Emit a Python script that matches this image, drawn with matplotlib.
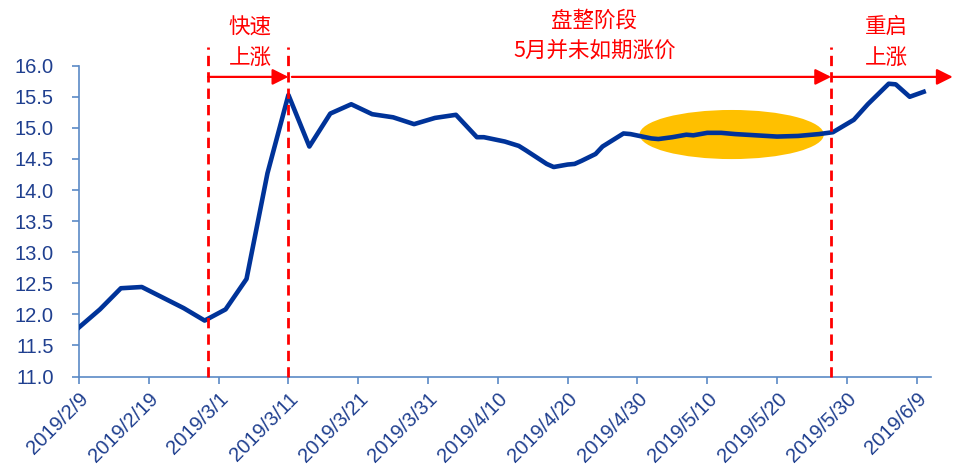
import matplotlib
matplotlib.use("Agg")
import matplotlib.pyplot as plt
import matplotlib.dates as mdates
from matplotlib.patches import Ellipse
import pandas as pd

plt.rcParams['font.family'] = ['Liberation Sans', 'Noto Sans CJK SC', 'DejaVu Sans']

# price series
dates = ["2019-02-09", "2019-02-12", "2019-02-15", "2019-02-18", "2019-02-21",
         "2019-02-24", "2019-02-27", "2019-03-02", "2019-03-05", "2019-03-08",
         "2019-03-11", "2019-03-14", "2019-03-17", "2019-03-20", "2019-03-23",
         "2019-03-26", "2019-03-29", "2019-04-01", "2019-04-04", "2019-04-07",
         "2019-04-08", "2019-04-11", "2019-04-13", "2019-04-14", "2019-04-17",
         "2019-04-18", "2019-04-20", "2019-04-21", "2019-04-22", "2019-04-24",
         "2019-04-25", "2019-04-28", "2019-04-29", "2019-05-02", "2019-05-03",
         "2019-05-05", "2019-05-07", "2019-05-08", "2019-05-10", "2019-05-12",
         "2019-05-14", "2019-05-17", "2019-05-20", "2019-05-23", "2019-05-26",
         "2019-05-28", "2019-05-31", "2019-06-02", "2019-06-05", "2019-06-06",
         "2019-06-08", "2019-06-10"]
prices = [11.79, 12.08, 12.42, 12.44, 12.27,
          12.10, 11.90, 12.08, 12.57, 14.27,
          15.53, 14.70, 15.23, 15.38, 15.22,
          15.17, 15.06, 15.16, 15.21, 14.85,
          14.85, 14.78, 14.71, 14.64, 14.42,
          14.37, 14.41, 14.42, 14.47, 14.58,
          14.70, 14.91, 14.90, 14.83, 14.82,
          14.85, 14.89, 14.88, 14.92, 14.92,
          14.90, 14.88, 14.86, 14.87, 14.90,
          14.93, 15.13, 15.38, 15.71, 15.70,
          15.50, 15.58]

x_ticklabels = ["2019/2/9", "2019/2/19", "2019/3/1", "2019/3/11", "2019/3/21",
                "2019/3/31", "2019/4/10", "2019/4/20", "2019/4/30", "2019/5/10",
                "2019/5/20", "2019/5/30", "2019/6/9"]
y_ticks = [11.0, 11.5, 12.0, 12.5, 13.0, 13.5, 14.0, 14.5, 15.0, 15.5, 16.0]

# phase boundaries and labels
phase_lines = ["2019-02-27 12:00", "2019-03-11", "2019-05-27 18:00"]
phase_texts = [("2019-03-05 12:00", 16.62, "快速"), ("2019-03-05 12:00", 16.11, "上涨"),
               ("2019-04-23 20:00", 16.72, "盘整阶段"), ("2019-04-23 20:00", 16.24, "5月并未如期涨价"),
               ("2019-06-04 16:00", 16.62, "重启"), ("2019-06-04 16:00", 16.11, "上涨")]

x = pd.to_datetime(dates)
tick_pos = pd.to_datetime(x_ticklabels, format="%Y/%m/%d")

fig = plt.figure(figsize=(9.54, 4.71), dpi=100)
ax = fig.add_axes([0.0828, 0.2006, 0.8927, 0.6599])

blue = "#003399"
label_blue = "#1F3F8F"
spine_blue = "#5B8AC6"
red = "#FF0000"

# highlight of the flat May section
ell_c = mdates.date2num(pd.Timestamp("2019-05-13 12:00"))
ax.add_patch(Ellipse((ell_c, 14.893), width=26.4, height=0.79,
                     facecolor="#FFC000", edgecolor="none", zorder=1))

ax.plot(x, prices, color=blue, lw=3.3, zorder=3, solid_joinstyle="round")

for d in phase_lines:
    ax.axvline(pd.Timestamp(d), ymin=0, ymax=1.06, color=red, lw=2,
               dashes=(3.7, 2.2), clip_on=False, zorder=4)

# arrows along the top
arrow_y = 15.82
arrow_props = dict(arrowstyle="-|>", color=red, lw=1.6, mutation_scale=24,
                   shrinkA=0, shrinkB=0)
xl = [pd.Timestamp(d) for d in phase_lines]
ax.annotate("", xy=(xl[1], arrow_y), xytext=(xl[0], arrow_y),
            arrowprops=arrow_props, annotation_clip=False)
ax.annotate("", xy=(xl[2], arrow_y), xytext=(xl[1] + pd.Timedelta(hours=12), arrow_y),
            arrowprops=arrow_props, annotation_clip=False)
ax.annotate("", xy=(1.026, arrow_y), xytext=(xl[2] + pd.Timedelta(hours=6), arrow_y),
            xycoords=("axes fraction", "data"), textcoords="data",
            arrowprops=arrow_props, annotation_clip=False)

for d, yv, s in phase_texts:
    ax.text(pd.Timestamp(d), yv, s, color=red, fontsize=15.5, ha="center", va="center",
            family=["Noto Sans CJK SC", "DejaVu Sans"], clip_on=False)

ax.set_xlim(pd.Timestamp("2019-02-09"), pd.Timestamp("2019-06-11"))
ax.set_ylim(11.0, 16.0)
ax.set_yticks(y_ticks)
ax.set_yticklabels([f"{v:.1f}" for v in y_ticks])
ax.set_xticks(tick_pos)
ax.set_xticklabels(x_ticklabels, rotation=45, ha="right", rotation_mode="anchor")

for side in ["top", "right"]:
    ax.spines[side].set_visible(False)
for side in ["left", "bottom"]:
    ax.spines[side].set_color(spine_blue)
    ax.spines[side].set_linewidth(1.2)

ax.tick_params(axis="y", direction="out", length=5, width=1.2, color=spine_blue,
               labelcolor=label_blue, labelsize=14.5, pad=13)
ax.tick_params(axis="x", direction="out", length=5, width=1.2, color=spine_blue,
               labelcolor=label_blue, labelsize=14.5, pad=4)

fig.savefig("out.png", dpi=100)
